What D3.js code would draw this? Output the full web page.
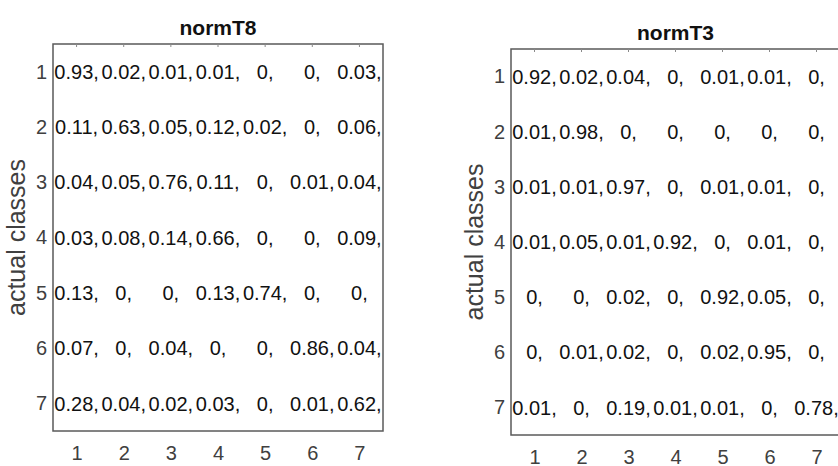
<!DOCTYPE html>
<html>
<head>
<meta charset="utf-8">
<script src="https://cdn.jsdelivr.net/npm/d3@7"></script>
<style>
  body { margin: 0; background: #fff; }
  svg { display: block; }
</style>
</head>
<body>
<svg id="chart" width="838" height="466"></svg>
<script>
const classes = [1, 2, 3, 4, 5, 6, 7];

const normT8 = [
  [0.93, 0.02, 0.01, 0.01, 0, 0, 0.03],
  [0.11, 0.63, 0.05, 0.12, 0.02, 0, 0.06],
  [0.04, 0.05, 0.76, 0.11, 0, 0.01, 0.04],
  [0.03, 0.08, 0.14, 0.66, 0, 0, 0.09],
  [0.13, 0, 0, 0.13, 0.74, 0, 0],
  [0.07, 0, 0.04, 0, 0, 0.86, 0.04],
  [0.28, 0.04, 0.02, 0.03, 0, 0.01, 0.62]
];

const normT3 = [
  [0.92, 0.02, 0.04, 0, 0.01, 0.01, 0],
  [0.01, 0.98, 0, 0, 0, 0, 0],
  [0.01, 0.01, 0.97, 0, 0.01, 0.01, 0],
  [0.01, 0.05, 0.01, 0.92, 0, 0.01, 0],
  [0, 0, 0.02, 0, 0.92, 0.05, 0],
  [0, 0.01, 0.02, 0, 0.02, 0.95, 0],
  [0.01, 0, 0.19, 0.01, 0.01, 0, 0.78]
];

const titles = ["normT8", "normT3"];
const yLabel = "actual classes";

const svg = d3.select("#chart");
const font = "'Liberation Sans', Arial, sans-serif";

// one panel per matrix
const panels = [
  { title: titles[0], data: normT8, left: 53, top: 44, width: 330, height: 387 },
  { title: titles[1], data: normT3, left: 511, top: 49, width: 329, height: 386 }
];

panels.forEach(p => {
  const x = d3.scaleLinear().domain([0.5, 7.5]).range([p.left, p.left + p.width]);
  const y = d3.scaleLinear().domain([0.5, 7.5]).range([p.top, p.top + p.height]);

  const g = svg.append("g");

  // box
  g.append("rect")
    .attr("x", p.left)
    .attr("y", p.top)
    .attr("width", p.width)
    .attr("height", p.height)
    .attr("fill", "#fff")
    .attr("stroke", "#5a5a5a")
    .attr("stroke-width", 1.5);

  // small inward ticks on the top edge
  g.selectAll(".tt")
    .data(classes)
    .enter()
    .append("line")
    .attr("x1", d => x(d)).attr("x2", d => x(d))
    .attr("y1", p.top).attr("y2", p.top + 3)
    .attr("stroke", "#8a8a8a");

  // cells
  const cells = [];
  p.data.forEach((row, i) => row.forEach((v, j) => cells.push({ r: classes[i], c: classes[j], v })));

  g.selectAll(".cell")
    .data(cells)
    .enter()
    .append("text")
    .attr("x", d => x(d.c))
    .attr("y", d => y(d.r))
    .attr("dy", "0.36em")
    .attr("text-anchor", "middle")
    .style("font-family", font)
    .style("font-size", "20px")
    .attr("fill", "#111")
    .text(d => d3.format("")(d.v) + ",");

  // x axis
  const xAxis = g.append("g")
    .attr("transform", `translate(0,${p.top + p.height})`)
    .call(d3.axisBottom(x).tickValues(classes).tickSize(0).tickPadding(15).tickFormat(d3.format("d")));
  xAxis.select(".domain").remove();
  xAxis.selectAll("text")
    .style("font-family", font)
    .style("font-size", "20px")
    .attr("fill", "#404040");

  // y axis
  const yAxis = g.append("g")
    .attr("transform", `translate(${p.left},0)`)
    .call(d3.axisLeft(y).tickValues(classes).tickSize(0).tickPadding(6).tickFormat(d3.format("d")));
  yAxis.select(".domain").remove();
  yAxis.selectAll("text")
    .style("font-family", font)
    .style("font-size", "20px")
    .attr("fill", "#404040");

  // y label
  g.append("text")
    .attr("transform", `translate(${p.left - 28},${p.top + p.height / 2}) rotate(-90)`)
    .attr("text-anchor", "middle")
    .style("font-family", font)
    .style("font-size", "25px")
    .attr("fill", "#404040")
    .text(yLabel);

  // title
  g.append("text")
    .attr("x", p.left + p.width / 2)
    .attr("y", p.top - 9)
    .attr("text-anchor", "middle")
    .style("font-family", font)
    .style("font-size", "21px")
    .style("font-weight", "bold")
    .attr("fill", "#111")
    .text(p.title);
});
</script>
</body>
</html>
